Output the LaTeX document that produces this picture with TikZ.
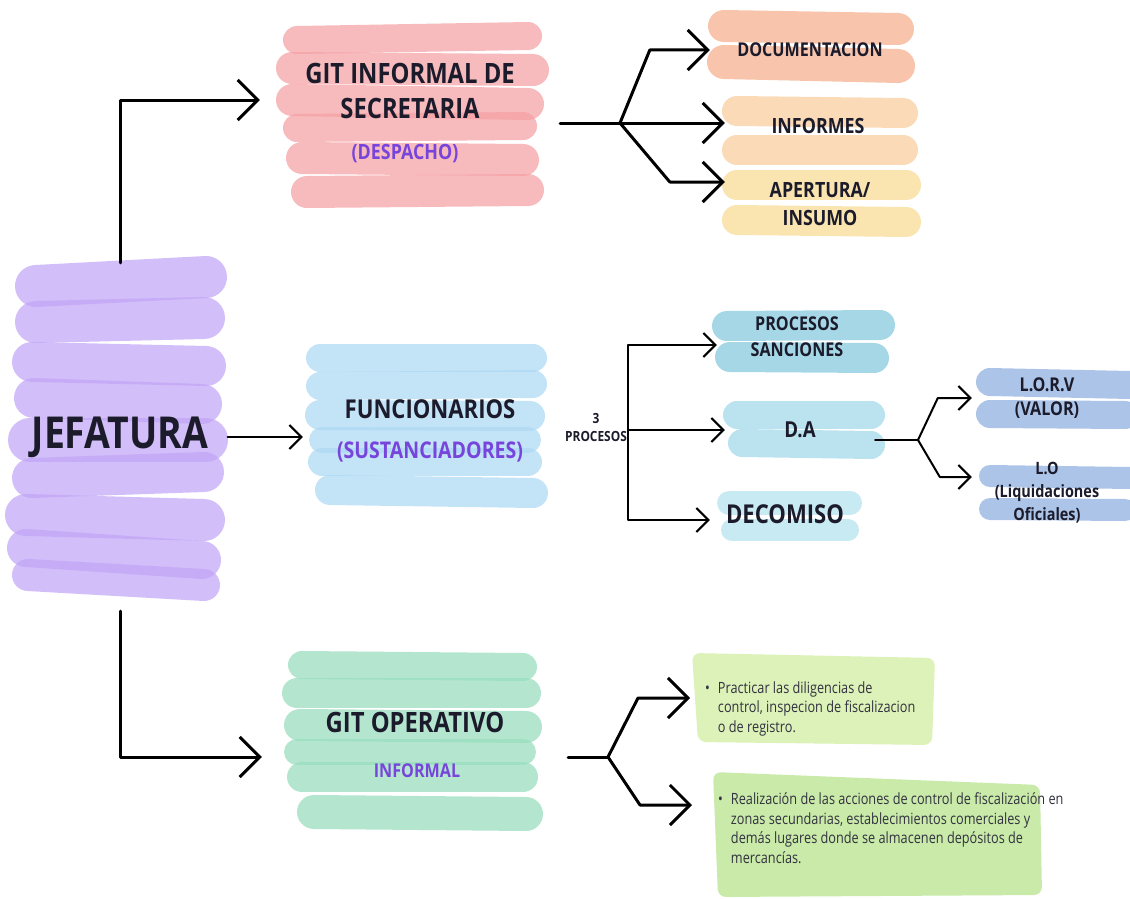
\documentclass[tikz,border=0pt]{standalone}
\usepackage{fontspec}
\usetikzlibrary{arrows.meta, positioning, calc}

\newfontfamily\headfont[FakeStretch=0.85]{Open Sans}
\newfontfamily\bodyfont[FakeStretch=0.82]{Open Sans}

\definecolor{ink}{HTML}{1B1B2B}
\definecolor{violet}{HTML}{7745DC}
\definecolor{lilac}{HTML}{C2A6F7}
\definecolor{rose}{HTML}{F5A0A4}
\definecolor{peach}{HTML}{F6B08C}
\definecolor{apricot}{HTML}{F9CC9C}
\definecolor{butter}{HTML}{F9DC92}
\definecolor{sky}{HTML}{ADD9F4}
\definecolor{teal}{HTML}{84C8DD}
\definecolor{aqua}{HTML}{A0D9EA}
\definecolor{ice}{HTML}{B3E3EF}
\definecolor{peri}{HTML}{8DAEE0}
\definecolor{mint}{HTML}{98DDBD}
\definecolor{lime}{HTML}{DDF2B8}
\definecolor{leaf}{HTML}{C9EAA8}

% marker stroke: colour, x1, y1, x2, y2, width
\newcommand{\band}[6]{\draw[line width=#6pt, line cap=round, draw=#1, opacity=.72] (#2,#3) -- (#4,#5);}

\begin{document}
\begin{tikzpicture}[x=1pt, y=-1pt,
	  lbl/.style 2 args={font=\headfont\bfseries\fontsize{#1}{#2}\selectfont, text=ink, align=center, inner sep=0pt},
	  subtl/.style={text=violet},
	  arr/.style={line width=3pt, line cap=round, line join=round, -{Straight Barb[length=20pt,width=40pt]}},
	  tarr/.style={line width=2pt, line cap=round, line join=round, -{Straight Barb[length=12pt,width=24pt]}},
	  link/.style={line width=3pt, line cap=round},
	  tlink/.style={line width=2pt, line cap=round},
	  item/.style={font=\bodyfont\fontsize{15.5}{19.5}\selectfont, text=ink!90, align=left, anchor=west, inner ysep=0pt}
	]

	\fill[white] (0,0) rectangle (1130,899);
	\useasboundingbox (0,0) rectangle (1130,899);

	% marker backgrounds
	\band{lilac}{36}{286}{206}{277}{42}
	\band{lilac}{36}{322}{204}{318}{42}
	\band{lilac}{32}{362}{206}{366}{40}
	\band{lilac}{34}{398}{202}{404}{40}
	\band{lilac}{30}{440}{206}{440}{44}
	\band{lilac}{32}{478}{204}{472}{40}
	\band{lilac}{26}{515}{204}{520}{42}
	\band{lilac}{26}{548}{202}{560}{38}
	\band{lilac}{28}{575}{204}{585}{32}

	\band{rose}{297}{40}{528}{36}{28}
	\band{rose}{292}{68}{533}{70}{32}
	\band{rose}{292}{100}{528}{104}{32}
	\band{rose}{297}{128}{523}{126}{28}
	\band{rose}{302}{158}{523}{160}{32}
	\band{rose}{307}{192}{528}{190}{32}

	\band{peach}{724}{26}{898}{29}{32}
	\band{peach}{724}{62}{898}{66}{34}
	\band{apricot}{737}{111}{903}{113}{30}
	\band{apricot}{737}{150}{903}{150}{30}
	\band{butter}{737}{185}{906}{185}{30}
	\band{butter}{737}{220}{906}{222}{30}

	\band{sky}{320}{358}{533}{358}{28}
	\band{sky}{320}{386}{533}{384}{28}
	\band{sky}{320}{415}{530}{416}{30}
	\band{sky}{322}{440}{528}{440}{26}
	\band{sky}{322}{462}{528}{462}{28}
	\band{sky}{330}{490}{533}{493}{30}

	\band{teal}{727}{326}{880}{325}{30}
	\band{teal}{730}{357}{874}{358}{30}
	\band{aqua}{737}{415}{871}{415}{28}
	\band{aqua}{742}{443}{871}{445}{28}
	\band{ice}{729}{503}{850}{503}{24}
	\band{ice}{732}{530}{848}{530}{22}

	\band{peri}{990}{382}{1130}{385}{28}
	\band{peri}{990}{414}{1125}{415}{28}
	\band{peri}{990}{476}{1130}{478}{22}
	\band{peri}{990}{509}{1125}{510}{22}

	\band{mint}{302}{665}{523}{667}{28}
	\band{mint}{297}{693}{526}{693}{30}
	\band{mint}{300}{725}{526}{727}{32}
	\band{mint}{297}{752}{523}{752}{26}
	\band{mint}{302}{777}{523}{777}{30}
	\band{mint}{314}{812}{526}{814}{34}

	\fill[lime, rounded corners=8pt] (692,653) -- (935,658) -- (932,745) -- (698,742) -- cycle;
	\fill[leaf, rounded corners=8pt] (713,772) -- (1040,785) -- (1042,895) -- (718,897) -- cycle;

	% nodes
	\node[lbl={44}{50}, minimum width=215pt, minimum height=348pt] (jef) at (120,437) {JEFATURA};

	\node[lbl={28}{35}, minimum width=300pt] (secr) at (410,91) {GIT INFORMAL DE\\SECRETARIA};
	\node[lbl={21}{24}, subtl] (desp) at (405,154) {(DESPACHO)};
	\node[lbl={19}{22}, minimum width=200pt] (docu) at (810,50) {DOCUMENTACION};
	\node[lbl={21}{24}, minimum width=186pt] (info) at (818,126) {INFORMES};
	\node[lbl={21}{28}, minimum width=190pt] (aper) at (820,204) {APERTURA/\\INSUMO};

	\node[lbl={26}{40}, minimum width=254pt] (func) at (430,431) {FUNCIONARIOS\\{\fontsize{23}{40}\selectfont\color{violet}(SUSTANCIADORES)}};
	\node[lbl={14}{18}] (tres) at (596,427) {3\\PROCESOS};
	\node[lbl={19}{26}, minimum width=160pt] (sanc) at (797,337) {PROCESOS\\SANCIONES};
	\node[lbl={22}{26}, minimum width=150pt] (da) at (800,430) {D.A};
	\node[lbl={26}{30}, minimum width=150pt] (deco) at (785,514) {DECOMISO};
	\node[lbl={19}{24}, minimum width=150pt] (lorv) at (1047,398) {L.O.R.V\\(VALOR)};
	\node[lbl={17}{23}, minimum width=150pt] (lo) at (1047,493) {L.O\\(Liquidaciones\\Oficiales)};

	\node[lbl={28}{34}, minimum width=306pt] (oper) at (415,722) {GIT OPERATIVO};
	\node[lbl={19}{22}, subtl] (infm) at (417,771) {INFORMAL};

	\node[item, inner xsep=15pt] (it1) at (690,709) {\begin{tabular}{@{}l@{\hspace{8pt}}l@{}}\textbullet & Practicar las diligencias de\\ & control, inspecion de fiscalizacion\\ & o de registro.\end{tabular}};
	\node[item, inner xsep=26pt] (it2) at (692,830) {\begin{tabular}{@{}l@{\hspace{8pt}}l@{}}\textbullet & Realización de las acciones de control de fiscalización en\\ & zonas secundarias, establecimientos comerciales y\\ & demás lugares donde se almacenen depósitos de\\ & mercancías.\end{tabular}};

	% connectors
	\draw[arr] (jef.north) |- ([yshift=-9pt]secr.west);
	\draw[tarr] (jef.east) -- (jef.east -| func.west);
	\draw[arr] (jef.south) |- ([yshift=-35pt]oper.west);

	\coordinate (f1) at (620,123);
	\draw[link] (secr.east |- f1) -- (f1);
	\draw[arr] (f1) -- ([xshift=-60pt]docu.west) -- (docu.west);
	\draw[arr] (f1) -- (f1 -| info.west);
	\draw[arr] (f1) -- ([xshift=-55pt,yshift=22pt]aper.west) -- ([yshift=22pt]aper.west);

	\coordinate (b1) at (628,430);
	\draw[tarr] (b1) |- ([yshift=-8pt]sanc.west);
	\draw[tarr] (b1) -- (b1 -| da.west);
	\draw[tarr] (b1) |- ([yshift=-6pt]deco.west);

	\coordinate (f2) at (918,440);
	\draw[tlink] (da.east |- f2) -- (f2);
	\draw[tarr] (f2) -- ([xshift=-34pt]lorv.west) -- (lorv.west);
	\draw[tarr] (f2) -- ([xshift=-32pt,yshift=16pt]lo.west) -- ([yshift=16pt]lo.west);

	\coordinate (f3) at (608,757);
	\draw[link] (oper.east |- f3) -- (f3);
	\draw[arr] (f3) -- ([xshift=-52pt,yshift=11pt]it1.west) -- ([yshift=11pt]it1.west);
	\draw[arr] (f3) -- ([xshift=-52pt,yshift=25pt]it2.west) -- ([yshift=25pt]it2.west);

\end{tikzpicture}
\end{document}
